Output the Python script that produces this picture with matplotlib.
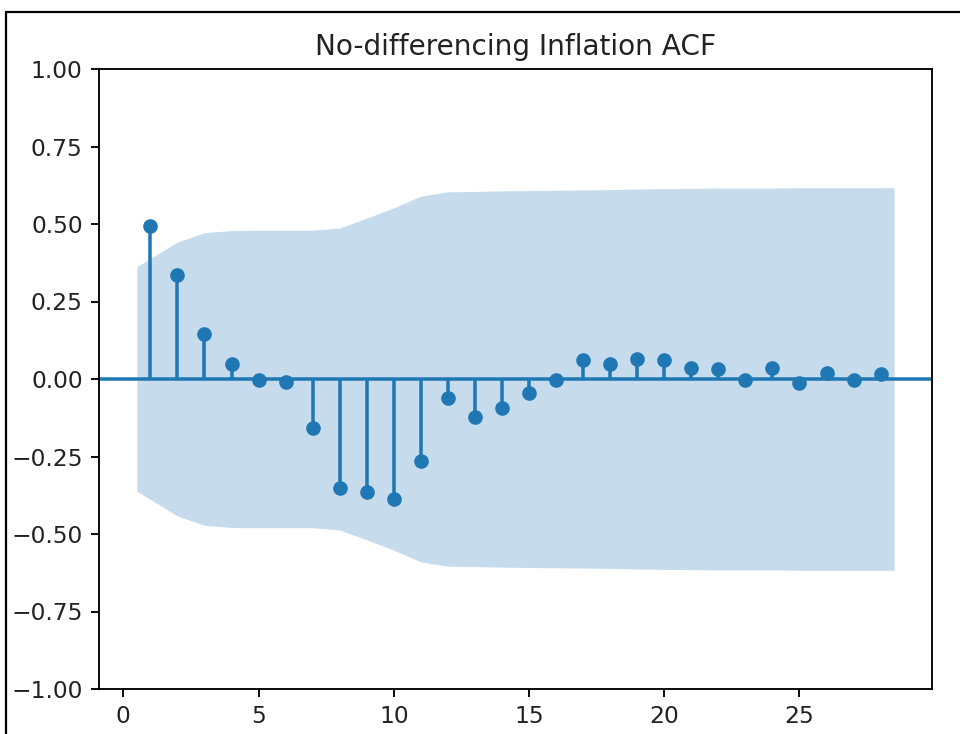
import numpy as np
import matplotlib
matplotlib.use("Agg")
import matplotlib.pyplot as plt
from matplotlib.patches import Rectangle

# ACF values for lags 1..28
lags = list(range(1, 29))
acf_vals = [0.495, 0.337, 0.146, 0.049, -0.003, -0.010, -0.159, -0.353,
            -0.366, -0.388, -0.265, -0.061, -0.123, -0.094, -0.045, -0.003,
            0.061, 0.049, 0.064, 0.062, 0.036, 0.032, -0.003, 0.036,
            -0.013, 0.019, -0.003, 0.016]
# half width of the 95% confidence band at each lag
band = [0.362, 0.442, 0.472, 0.479, 0.480, 0.480, 0.480, 0.487,
        0.519, 0.552, 0.590, 0.604, 0.605, 0.607, 0.608, 0.609,
        0.610, 0.611, 0.613, 0.614, 0.615, 0.616, 0.616, 0.616,
        0.617, 0.617, 0.617, 0.617]
title = 'No-differencing Inflation ACF'

s = 1.68  # original figure was saved at ~168 dpi

fig = plt.figure(figsize=(9.6, 7.34), dpi=100)
ax = fig.add_axes([99 / 960, 1 - 689 / 734, (932 - 99) / 960, (689 - 69) / 734])

x = np.array(lags, dtype=float)
x[0] -= 0.5
x[-1] += 0.5
b = np.array(band)
ax.fill_between(x, -b, b, color='#1f77b4', alpha=0.25, linewidth=0)
ax.vlines(lags, 0, acf_vals, color='#1f77b4', linewidth=1.5 * s)
ax.axhline(0, color='#1f77b4', linewidth=1.5 * s)
ax.plot(lags, acf_vals, 'o', color='#1f77b4', markersize=9.5)

ax.set_xlim(-0.9, 29.9)
ax.set_ylim(-1, 1)
ax.set_yticks([-1, -0.75, -0.5, -0.25, 0, 0.25, 0.5, 0.75, 1.0])
ax.set_yticklabels(['\u22121.00', '\u22120.75', '\u22120.50', '\u22120.25', '0.00',
                    '0.25', '0.50', '0.75', '1.00'])
ax.set_xticks([0, 5, 10, 15, 20, 25])
ax.tick_params(labelsize=10 * s, width=0.8 * s, length=3.5 * s, pad=3.5 * s,
               labelcolor='#222222')
for sp in ax.spines.values():
    sp.set_linewidth(0.8 * s)
ax.set_title(title, fontsize=12 * s, pad=6 * s, color='#222222')

# screenshot frame around the figure
fig.patches.append(Rectangle((6 / 960, -0.1), 1.2, 1 - 12 / 734 + 0.1,
                             transform=fig.transFigure, fill=False,
                             edgecolor='black', linewidth=1.6))

fig.savefig('out.png', dpi=100)
